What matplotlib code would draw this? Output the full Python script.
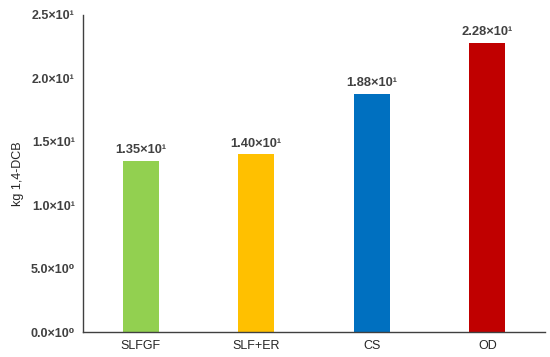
import numpy as np
import matplotlib
matplotlib.use("Agg")
import matplotlib.pyplot as plt

plt.rcParams['font.family'] = ['Liberation Sans', 'DejaVu Sans']

categories = ["SLFGF", "SLF+ER", "CS", "OD"]
values = [13.5, 14.0, 18.8, 22.8]
value_labels = ["1.35×10¹", "1.40×10¹", "1.88×10¹", "2.28×10¹"]
colors = ["#92D050", "#FFC000", "#0070C0", "#C00000"]
yticks = [0, 5, 10, 15, 20, 25]
ytick_labels = ["0.0×10⁰", "5.0×10⁰", "1.0×10¹", "1.5×10¹", "2.0×10¹", "2.5×10¹"]

fig = plt.figure(figsize=(5.5, 3.57), dpi=100)
ax = fig.add_axes([0.151, 0.070, 0.840, 0.888])

x = np.arange(len(categories))
ax.bar(x, values, width=0.31, color=colors)
for xi, v, lab in zip(x, values, value_labels):
    ax.text(xi, v + 0.35, lab, ha='center', va='bottom', fontsize=9.3,
            fontweight='bold', color='#404040')

ax.set_xlim(-0.5, len(categories) - 0.5)
ax.set_ylim(0, 25)
ax.set_xticks(x)
ax.set_xticklabels(categories, fontsize=9, color='#262626')
ax.set_yticks(yticks)
ax.set_yticklabels(ytick_labels, fontsize=9, fontweight='bold', color='#404040')
ax.tick_params(length=0, pad=6)
ax.set_ylabel("kg 1,4-DCB", fontsize=9, color='#262626', labelpad=5)

for s in ['top', 'right']:
    ax.spines[s].set_visible(False)
for s in ['left', 'bottom']:
    ax.spines[s].set_color('#404040')
    ax.spines[s].set_linewidth(1.0)

fig.savefig("out.png", dpi=100)
